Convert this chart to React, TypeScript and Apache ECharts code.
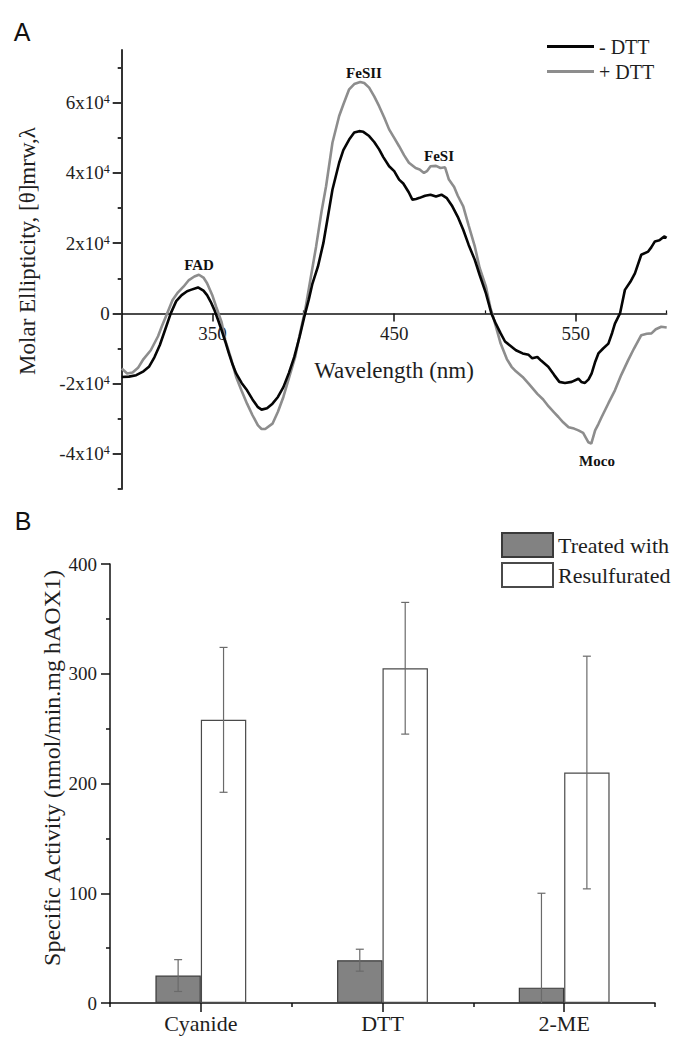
import React, { useEffect, useRef } from "react";
import * as echarts from "echarts";

// ---- Panel A: CD spectra ----
const wavelengthMinusDTT = [
  300, 304, 308, 312, 315, 318, 321, 324, 327, 330, 333, 336, 338, 342, 345, 347, 349, 351, 353, 355,
  357, 359, 361, 363, 366, 369, 372, 375, 377, 380, 383, 386, 389, 392, 395, 398, 400.5, 403, 405, 408,
  411, 413, 416, 419.7, 422, 425.2, 428, 430.7, 433, 436.2, 439, 441.7, 444, 447.2, 450, 452.7, 455, 458,
  460, 462, 464, 467, 470, 473, 476, 479, 482, 485, 488, 491, 494.4, 497, 500.5, 503.5, 506, 508.6, 511,
  514.6, 517, 520.7, 524, 526, 528.8, 531, 534.8, 538, 540.9, 544, 547.7, 551.4, 553, 555, 557, 558.7,
  560.5, 562.4, 565, 567.9, 570, 571.5, 574.3, 577, 580, 582.5, 586, 589.8, 591.5, 593.5, 596, 598.6, 600,
];
const ellipticityMinusDTT = [
  -18100, -18000, -17600, -16500, -15200, -12500, -9000, -4500, 0, 3500, 5200, 6300, 6700, 7400, 6500,
  5200, 3300, 1000, -1800, -4800, -8000, -11400, -14500, -17100, -19800, -21900, -24500, -26700, -27400,
  -27000, -25700, -23800, -21000, -17000, -12400, -6500, -1000, 4000, 8500, 13300, 20000, 26000, 35200,
  42900, 46500, 49500, 51500, 51900, 51700, 50500, 48800, 46700, 44500, 41900, 40500, 38100, 37000, 34500,
  32400, 32600, 32900, 33500, 33800, 33300, 33800, 32800, 30500, 27500, 23800, 19500, 15200, 11000, 5700,
  0, -3000, -5700, -8000, -9500, -10500, -11400, -11800, -12800, -12400, -13500, -15200, -17500, -19500,
  -19800, -19500, -18600, -19500, -19800, -18800, -17100, -14000, -11400, -10000, -8600, -5500, -2900, 0,
  6700, 9000, 11400, 16700, 17600, 18800, 20500, 20800, 21900, 21500,
];
const wavelengthPlusDTT = [
  300, 303, 306, 309, 312, 316, 320, 322, 325, 328, 331, 334, 337, 340, 342.5, 345, 347, 350, 352, 355,
  357, 360, 363, 366, 369, 372, 375, 377, 379, 383, 386, 389, 392, 395.5, 398, 401, 404, 407, 410, 412.5,
  416, 419.7, 422, 425.2, 428, 431.3, 433.5, 436.2, 439, 441.7, 444.5, 447.2, 450, 452.7, 455.5, 458.1,
  461.8, 464, 466.4, 468, 470, 473, 475.5, 478, 480.1, 483, 485, 488, 491, 494.4, 497, 500.5, 503, 504.5,
  508.6, 512, 514.6, 517, 520.7, 524, 528.8, 532, 535, 538, 540.4, 543, 546, 549, 551.4, 554, 556.9, 558.5,
  560.6, 562.4, 564.2, 568, 571.5, 575, 578.8, 582, 586, 589, 591.6, 594, 597, 600,
];
const ellipticityPlusDTT = [
  -15700, -17100, -16800, -15500, -13000, -10500, -6500, -3800, 0, 3800, 6000, 7600, 9500, 10500, 11000,
  10200, 8600, 5000, 1900, -2500, -7600, -12500, -18100, -22000, -25700, -29000, -31900, -32900, -32900,
  -31400, -28000, -23800, -18500, -12400, -6000, 1000, 10000, 19000, 29000, 36200, 48600, 56200, 59500,
  63800, 65300, 65900, 65600, 64300, 61800, 59000, 55800, 52400, 50000, 47600, 45000, 42900, 41400, 41000,
  40000, 40500, 41900, 42000, 41400, 41600, 38100, 36000, 33500, 30500, 25000, 19000, 13000, 7600, 1500,
  -1000, -8600, -13000, -15200, -16500, -18100, -20000, -22900, -24500, -26500, -28200, -29500, -31000,
  -32400, -32800, -33300, -34000, -36700, -37100, -33300, -31500, -29500, -25500, -21900, -17500, -13300,
  -10000, -6200, -5800, -5700, -4500, -3800, -4000,
];
const xMajorTicksA = [350, 450, 550];
const xMinorTicksA = [400, 500, 600];
const yMajorTicksA = [-40000, -20000, 0, 20000, 40000, 60000];
const yMinorTicksA = [-50000, -30000, -10000, 10000, 30000, 50000, 70000];

// ---- Panel B: specific activity ----
const categories = ["Cyanide", "DTT", "2-ME"];
const treatedValues = [25, 39, 14];
const treatedErrors = [14.5, 10, 86];
const resulfuratedValues = [258, 305, 210];
const resulfuratedErrors = [66, 60, 106];

const SERIF = "'Liberation Serif', 'Times New Roman', serif";
const SANS = "'Liberation Sans', Arial, sans-serif";
const TXT = "#1e1e1e";
const GREY_LINE = "#8d8d8d";

// panel A plot box (px) and its y range; the x axis sits on the zero line
const A_TOP = 50;
const A_BOTTOM_GAP = 550;
const A_MIN = -50000;
const A_MAX = 75000;

export default function App() {
  const ref = useRef<HTMLDivElement>(null);

  useEffect(() => {
    if (!ref.current) return;
    const chart = echarts.init(ref.current, undefined, { renderer: "svg" });

    const minusData = wavelengthMinusDTT.map((w, i) => [w, ellipticityMinusDTT[i]]);
    const plusData = wavelengthPlusDTT.map((w, i) => [w, ellipticityPlusDTT[i]]);
    const errData = [
      ...categories.map((_, i) => [i, treatedValues[i], treatedErrors[i], 0]),
      ...categories.map((_, i) => [i, resulfuratedValues[i], resulfuratedErrors[i], 1]),
    ];

    const aHeight = 1039 - A_TOP - A_BOTTOM_GAP;
    const zeroY = A_TOP + (aHeight * A_MAX) / (A_MAX - A_MIN);

    const legendTextA = { fontFamily: SERIF, fontSize: 20, color: TXT, lineHeight: 20 };
    const legendTextB = { fontFamily: SERIF, fontSize: 22, color: TXT, lineHeight: 24 };

    const option: any = {
      animation: false,
      backgroundColor: "#ffffff",
      grid: [
        { left: 121.7, right: 10.3, top: A_TOP, bottom: A_BOTTOM_GAP, containLabel: false },
        { left: 110, right: 22, top: 564, bottom: 36, containLabel: false },
        { left: 121.7, right: 10.3, top: A_TOP, bottom: 1039 - zeroY, containLabel: false },
      ],
      legend: [
        {
          data: [
            { name: "- DTT", textStyle: legendTextA },
            { name: "+ DTT", textStyle: legendTextA },
          ],
          orient: "vertical",
          left: 547,
          top: 36.5,
          padding: 0,
          itemWidth: 47,
          itemHeight: 3,
          itemGap: 5,
          icon: "rect",
          textStyle: legendTextA,
        },
        {
          data: [
            { name: "Treated with", textStyle: legendTextB },
            { name: "Resulfurated", textStyle: legendTextB },
          ],
          orient: "vertical",
          left: 501,
          top: 532,
          padding: 0,
          itemWidth: 51,
          itemHeight: 24,
          itemGap: 4,
          icon: "rect",
          textStyle: legendTextB,
        },
      ],
      xAxis: [
        {
          gridIndex: 0,
          type: "value",
          min: 300,
          max: 600,
          show: false,
        },
        {
          gridIndex: 2,
          type: "value",
          position: "bottom",
          min: 300,
          max: 600,
          axisLine: { show: true, onZero: false, lineStyle: { color: "#111", width: 1.5 } },
          axisTick: { show: true, customValues: xMajorTicksA, length: 8, lineStyle: { color: "#111", width: 1.5 } },
          axisLabel: { customValues: xMajorTicksA, fontFamily: SERIF, fontSize: 19, color: TXT, margin: 11 },
          splitLine: { show: false },
        },
        {
          gridIndex: 2,
          type: "value",
          position: "bottom",
          min: 300,
          max: 600,
          axisLine: { show: false, onZero: false },
          axisTick: { show: true, customValues: xMinorTicksA, length: 3, inside: true, lineStyle: { color: "#111", width: 1.2 } },
          axisLabel: { show: false },
          splitLine: { show: false },
        },
        {
          gridIndex: 1,
          type: "category",
          position: "bottom",
          data: categories,
          axisLine: { show: true, lineStyle: { color: "#111", width: 1.5 } },
          axisTick: { show: true, alignWithLabel: false, length: 4, lineStyle: { color: "#111", width: 1.5 } },
          axisLabel: { show: false },
          splitLine: { show: false },
        },
        {
          gridIndex: 1,
          type: "category",
          position: "bottom",
          data: categories,
          axisLine: { show: false },
          axisTick: { show: true, alignWithLabel: true, length: 9, lineStyle: { color: "#111", width: 1.5 } },
          axisLabel: { fontFamily: SERIF, fontSize: 22, color: TXT, margin: 9 },
          splitLine: { show: false },
        },
      ],
      yAxis: [
        {
          gridIndex: 0,
          type: "value",
          position: "left",
          min: A_MIN,
          max: A_MAX,
          axisLine: { show: true, lineStyle: { color: "#333", width: 2 } },
          axisTick: { show: true, customValues: yMajorTicksA, length: 9, lineStyle: { color: "#333", width: 2 } },
          axisLabel: {
            customValues: yMajorTicksA,
            margin: 12,
            formatter: (v: number) => (v === 0 ? "{n|0}" : `{n|${v / 10000}x10}{s|4}`),
            rich: {
              n: { fontFamily: SERIF, fontSize: 19, color: TXT },
              s: { fontFamily: SERIF, fontSize: 12, color: TXT, verticalAlign: "top" },
            },
          },
          splitLine: { show: false },
        },
        {
          gridIndex: 0,
          type: "value",
          position: "left",
          min: A_MIN,
          max: A_MAX,
          axisLine: { show: false },
          axisTick: { show: true, customValues: yMinorTicksA, length: 4, lineStyle: { color: "#333", width: 2 } },
          axisLabel: { show: false },
          splitLine: { show: false },
        },
        {
          gridIndex: 1,
          type: "value",
          position: "left",
          min: 0,
          max: 400,
          interval: 100,
          axisLine: { show: true, lineStyle: { color: "#111", width: 1.5 } },
          axisTick: { show: true, length: 9, lineStyle: { color: "#111", width: 1.5 } },
          minorTick: { show: true, splitNumber: 2, length: 4, lineStyle: { color: "#111", width: 1.5 } },
          axisLabel: { fontFamily: SERIF, fontSize: 19, color: TXT, margin: 13 },
          splitLine: { show: false },
        },
        {
          gridIndex: 2,
          type: "value",
          min: 0,
          max: A_MAX,
          show: false,
        },
      ],
      series: [
        {
          name: "+ DTT",
          type: "line",
          xAxisIndex: 0,
          yAxisIndex: 0,
          data: plusData,
          symbol: "none",
          color: GREY_LINE,
          lineStyle: { color: GREY_LINE, width: 2.6 },
          itemStyle: { color: GREY_LINE },
          z: 3,
        },
        {
          name: "- DTT",
          type: "line",
          xAxisIndex: 0,
          yAxisIndex: 0,
          data: minusData,
          symbol: "none",
          color: "#050505",
          lineStyle: { color: "#050505", width: 2.6 },
          itemStyle: { color: "#050505" },
          z: 4,
        },
        {
          name: "Treated with",
          type: "bar",
          xAxisIndex: 3,
          yAxisIndex: 2,
          data: treatedValues,
          barWidth: "25%",
          barGap: "0%",
          itemStyle: { color: "#828282", borderColor: "#3a3a3a", borderWidth: 1.2 },
          z: 2,
        },
        {
          name: "Resulfurated",
          type: "bar",
          xAxisIndex: 3,
          yAxisIndex: 2,
          data: resulfuratedValues,
          barWidth: "25%",
          barGap: "0%",
          itemStyle: { color: "#ffffff", borderColor: "#4a4a4a", borderWidth: 1.2 },
          z: 2,
        },
        {
          name: "error",
          type: "custom",
          xAxisIndex: 3,
          yAxisIndex: 2,
          data: errData,
          silent: true,
          z: 5,
          renderItem: (params: any, api: any) => {
            const i = api.value(0);
            const v = api.value(1);
            const e = api.value(2);
            const side = api.value(3);
            const band = api.size([1, 0])[0];
            const off = (side === 0 ? -1 : 1) * band * 0.125;
            const lowVal = Math.max(v - e, 0);
            const top = api.coord([i, v + e]);
            const bot = api.coord([i, lowVal]);
            const x = top[0] + off;
            const cap = 4;
            const style = { stroke: "#6a6a6a", lineWidth: 1.2 };
            const children: any[] = [
              { type: "line", shape: { x1: x, y1: top[1], x2: x, y2: bot[1] }, style },
              { type: "line", shape: { x1: x - cap, y1: top[1], x2: x + cap, y2: top[1] }, style },
            ];
            if (v - e >= 0) {
              children.push({ type: "line", shape: { x1: x - cap, y1: bot[1], x2: x + cap, y2: bot[1] }, style });
            }
            return { type: "group", children };
          },
        },
      ],
      graphic: [
        { type: "text", x: 22, y: 32, style: { text: "A", font: `25px ${SANS}`, fill: "#111", textAlign: "center", textVerticalAlign: "middle" } },
        { type: "text", x: 23, y: 521, style: { text: "B", font: `25px ${SANS}`, fill: "#111", textAlign: "center", textVerticalAlign: "middle" } },
        {
          type: "text",
          x: 27,
          y: 251,
          rotation: Math.PI / 2,
          style: { text: "Molar Ellipticity, [θ]mrw,λ", font: `23px ${SERIF}`, fill: TXT, textAlign: "center", textVerticalAlign: "middle" },
        },
        {
          type: "text",
          x: 394,
          y: 370,
          style: { text: "Wavelength (nm)", font: `23px ${SERIF}`, fill: TXT, textAlign: "center", textVerticalAlign: "middle" },
        },
        {
          type: "text",
          x: 52,
          y: 768,
          rotation: Math.PI / 2,
          style: { text: "Specific Activity (nmol/min.mg hAOX1)", font: `24px ${SERIF}`, fill: TXT, textAlign: "center", textVerticalAlign: "middle" },
        },
        { type: "text", x: 199, y: 265, style: { text: "FAD", font: `bold 15px ${SERIF}`, fill: "#111", textAlign: "center", textVerticalAlign: "middle" } },
        { type: "text", x: 364, y: 72.5, style: { text: "FeSII", font: `bold 15px ${SERIF}`, fill: "#111", textAlign: "center", textVerticalAlign: "middle" } },
        { type: "text", x: 439, y: 156, style: { text: "FeSI", font: `bold 15px ${SERIF}`, fill: "#111", textAlign: "center", textVerticalAlign: "middle" } },
        { type: "text", x: 597, y: 461, style: { text: "Moco", font: `bold 15px ${SERIF}`, fill: "#111", textAlign: "center", textVerticalAlign: "middle" } },
      ],
    };

    chart.setOption(option);
    return () => {
      chart.dispose();
    };
  }, []);

  return (
    <div
      ref={ref}
      style={{ position: "absolute", left: 0, top: 0, width: 677, height: 1039, background: "#fff" }}
    />
  );
}
